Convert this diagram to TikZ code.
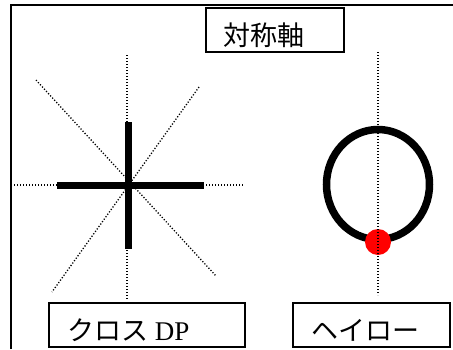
\documentclass[tikz,border=0pt]{standalone}
\usepackage{fontspec}
\setmainfont{Liberation Serif}
\newfontfamily\jpfont{Noto Sans CJK JP}
\usetikzlibrary{positioning}

\begin{document}
\begin{tikzpicture}[
  x=1pt, y=-1pt,
  frame/.style={line width=2pt},
  labelbox/.style={rectangle, draw, line width=1.6pt, minimum height=44pt, inner sep=0pt},
  labeltext/.style={anchor=base west, inner sep=0pt, font=\fontsize{27}{30}\selectfont},
  axisline/.style={line width=1.3pt, dash pattern=on 1.2pt off 1.8pt},
  bar/.style={line width=7pt},
  ring/.style={line width=7.5pt},
]
  \useasboundingbox (0,0) rectangle (453,349);

  % Outer frame
  \draw[frame] (11,349) -- (11,5) -- (453,5);

  % Title
  \node[labelbox, minimum width=138pt] (title) at (275,30) {};
  \node[labeltext] (titletext) at (223,45) {\jpfont 対称軸};

  % Cross dipole: symmetry axes
  \coordinate (crossc) at (127,185);
  \draw[axisline] (127,55) -- (127,300);
  \draw[axisline] (14,185) -- (243,185);
  \draw[axisline] (36,80) -- (216,276);
  \draw[axisline] (199,87) -- (52,292);

  % Cross dipole: elements
  \draw[bar] (128.5,122) -- (128.5,249);
  \draw[bar] (57,185.5) -- (204,185.5);

  % Halo
  \coordinate (haloc) at (378,184.5);
  \draw[ring] (haloc) ellipse [x radius=51.5, y radius=55];
  \fill[red] (378,242) circle [radius=13];
  \draw[axisline] (378,52) -- (378,295);

  % Labels
  \node[labelbox, minimum width=196pt] (crossbox) at (147,325) {};
  \node[labeltext] (crosstext) at (67,340) {{\jpfont クロス} DP};
  \node[labelbox, minimum width=157pt] (halobox) at (371.5,325) {};
  \node[labeltext] (halotext) at (311,340) {\jpfont ヘイロー};
\end{tikzpicture}
\end{document}
